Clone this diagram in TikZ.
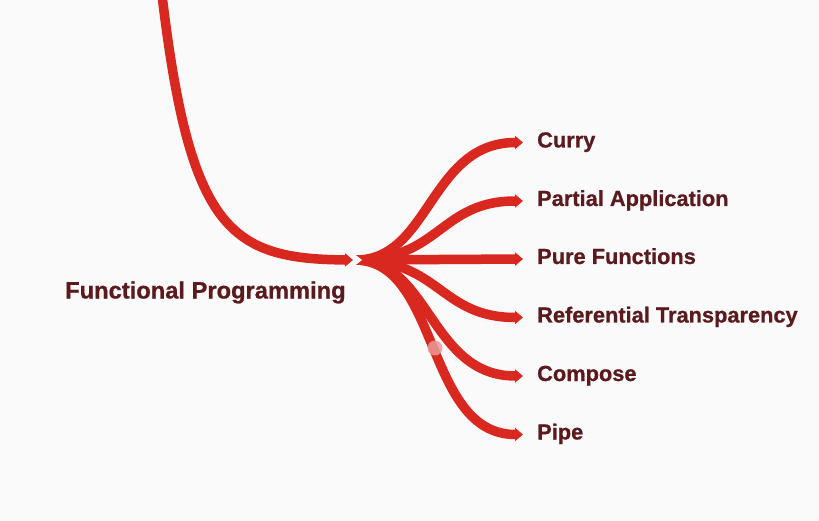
\documentclass[tikz,border=0pt]{standalone}
\usepackage{fontspec}
\setmainfont{Liberation Sans}[BoldFeatures={FakeBold=0.8}]
\usetikzlibrary{arrows.meta}
\definecolor{bg}{HTML}{FAFAFA}
\definecolor{branch}{HTML}{D9281F}
\definecolor{txt}{HTML}{5A1A1E}
\definecolor{dotc}{HTML}{EA9A9A}
\tikzset{
  branchline/.style={draw=branch, line width=9.5pt, -{Triangle[length=8pt,width=13pt]}},
  childlabel/.style={anchor=west, inner xsep=14pt, inner ysep=0pt, text height=16pt, text depth=6pt, text=txt, font=\fontsize{21.8}{26}\selectfont\bfseries},
  rootlabel/.style={anchor=base west, inner sep=0pt, text=txt, font=\fontsize{23.7}{28}\selectfont\bfseries}
}
\begin{document}
\begin{tikzpicture}[x=1pt,y=-1pt]
\fill[bg] (0,0) rectangle (819,521);
\useasboundingbox (0,0) rectangle (819,521);
% root
\node[rootlabel] (root) at (65,298.5) {Functional Programming};
\coordinate (top) at (162,-5);
\coordinate (rootend) at (353,260);
\draw[branchline] (top) .. controls (190,230) and (230,259) .. (rootend);
% children
\coordinate (hub) at (356,260);
\node[childlabel] (curry) at (523,142.5) {Curry};
\node[childlabel] (partial) at (523,201) {Partial Application};
\node[childlabel] (pure) at (523,259) {Pure Functions};
\node[childlabel] (refer) at (523,317.5) {Referential Transparency};
\node[childlabel] (compose) at (523,376) {Compose};
\node[childlabel] (pipe) at (523,434.5) {Pipe};
\draw[branchline] (hub) .. controls (430,260) and (430,142.5) .. (curry.west);
\draw[branchline] (hub) .. controls (440,260) and (440,201) .. (partial.west);
\draw[branchline] (hub) -- (pure.west);
\draw[branchline] (hub) .. controls (440,260) and (440,317.5) .. (refer.west);
\draw[branchline] (hub) .. controls (430,260) and (430,376) .. (compose.west);
\draw[branchline] (hub) .. controls (440,262) and (425,434.5) .. (pipe.west);
% notch at the start of the children
\fill[bg] (355,254.5) -- (362,260) -- (355,265.5) -- cycle;
% dot
\fill[dotc, opacity=0.85] (435,348) circle (7.5);
\end{tikzpicture}
\end{document}
